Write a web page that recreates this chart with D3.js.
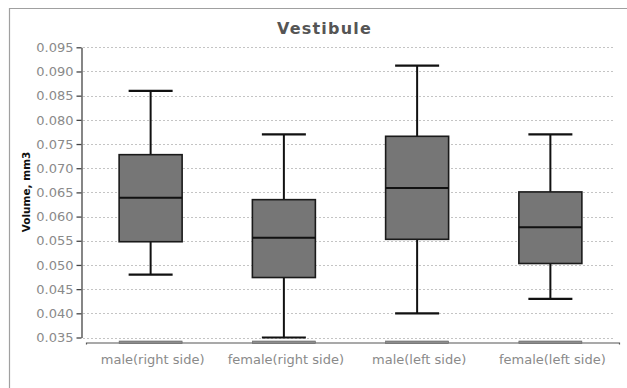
<!DOCTYPE html>
<html>
<head>
<meta charset="utf-8">
<script src="https://cdn.jsdelivr.net/npm/d3@7"></script>
<style>
  html, body { margin: 0; padding: 0; background: #fff; }
  svg { display: block; }
</style>
</head>
<body>
<svg id="chart" width="627" height="388"></svg>
<script>
// Box-plot statistics per group (volume, mm3)
const categories = ["male(right side)", "female(right side)", "male(left side)", "female(left side)"];
const whiskerHigh = [0.086, 0.077, 0.0912, 0.077];
const upperQuartile = [0.0728, 0.0635, 0.0766, 0.0651];
const medians = [0.0639, 0.0556, 0.0659, 0.0578];
const lowerQuartile = [0.0548, 0.0474, 0.0553, 0.0503];
const whiskerLow = [0.048, 0.035, 0.040, 0.043];
const yTicks = [0.035, 0.040, 0.045, 0.050, 0.055, 0.060, 0.065, 0.070, 0.075, 0.080, 0.085, 0.090, 0.095];

const svg = d3.select("#chart");
const font = "'DejaVu Sans', Verdana, sans-serif";

// outer frame (top and left edges)
svg.append("path")
  .attr("d", "M9.5,388 V8.5 H627")
  .attr("fill", "none")
  .attr("stroke", "#a0a0a0")
  .attr("stroke-width", 1.2);

// title
svg.append("text")
  .attr("x", 324.5).attr("y", 33.5)
  .attr("text-anchor", "middle")
  .attr("font-family", font)
  .attr("font-weight", "bold")
  .attr("font-size", 16)
  .attr("letter-spacing", 1.2)
  .attr("fill", "#555")
  .text("Vestibule");

const x = d3.scaleBand().domain(categories).range([84, 617]);
const y = d3.scaleLinear().domain([0.035, 0.095]).range([337.5, 47.3]);
const boxW = 63;
const capW = 44;

// horizontal dashed grid
svg.append("g").selectAll("line")
  .data(yTicks)
  .join("line")
  .attr("x1", 83).attr("x2", 614)
  .attr("y1", d => Math.round(y(d)) + 0.5)
  .attr("y2", d => Math.round(y(d)) + 0.5)
  .attr("stroke", "#c4c4c4")
  .attr("stroke-width", 1)
  .attr("stroke-dasharray", "2,2");

// y axis
const yAxis = svg.append("g")
  .attr("transform", "translate(81.5,0)")
  .call(d3.axisLeft(y).tickValues(yTicks).tickFormat(d3.format(".3f")).tickSize(5).tickSizeOuter(0).tickPadding(3));
yAxis.select(".domain").attr("stroke", "#444").attr("stroke-width", 1.3);
yAxis.selectAll(".tick line").attr("stroke", "#444").attr("stroke-width", 1.3);
yAxis.selectAll(".tick text")
  .attr("font-family", font)
  .attr("font-size", 13)
  .attr("fill", "#8a8a8a");

// x axis
const xAxis = svg.append("g")
  .attr("transform", "translate(2,342.5)")
  .call(d3.axisBottom(x).tickSize(0).tickSizeOuter(2).tickPadding(12));
xAxis.select(".domain").attr("stroke", "#555").attr("stroke-width", 1.2);
xAxis.selectAll(".tick text")
  .attr("font-family", font)
  .attr("font-size", 13)
  .attr("fill", "#8a8a8a");

// y axis title
svg.append("text")
  .attr("transform", "translate(30,192) rotate(-90)")
  .attr("text-anchor", "middle")
  .attr("font-family", font)
  .attr("font-weight", "bold")
  .attr("font-size", 10.5)
  .attr("fill", "#111")
  .text("Volume, mm3");

const rows = categories.map((c, i) => ({
  c, hi: whiskerHigh[i], q3: upperQuartile[i], med: medians[i], q1: lowerQuartile[i], lo: whiskerLow[i]
}));
const cx = d => x(d.c) + x.bandwidth() / 2;

const g = svg.append("g");

// flat markers on the category axis
g.selectAll("rect.base")
  .data(rows)
  .join("rect")
  .attr("class", "base")
  .attr("x", d => cx(d) - boxW / 2)
  .attr("y", 341)
  .attr("width", boxW)
  .attr("height", 2.5)
  .attr("fill", "#8c8c8c")
  .attr("stroke", "#666")
  .attr("stroke-width", 0.6);

// whisker stems
g.selectAll("line.stem")
  .data(rows)
  .join("line")
  .attr("class", "stem")
  .attr("x1", cx).attr("x2", cx)
  .attr("y1", d => y(d.hi)).attr("y2", d => y(d.lo))
  .attr("stroke", "#111").attr("stroke-width", 2);

// whisker caps
["hi", "lo"].forEach(k => {
  g.selectAll("line.cap-" + k)
    .data(rows)
    .join("line")
    .attr("class", "cap-" + k)
    .attr("x1", d => cx(d) - capW / 2).attr("x2", d => cx(d) + capW / 2)
    .attr("y1", d => y(d[k])).attr("y2", d => y(d[k]))
    .attr("stroke", "#111").attr("stroke-width", 2.2);
});

// boxes
g.selectAll("rect.box")
  .data(rows)
  .join("rect")
  .attr("class", "box")
  .attr("x", d => cx(d) - boxW / 2)
  .attr("y", d => y(d.q3))
  .attr("width", boxW)
  .attr("height", d => y(d.q1) - y(d.q3))
  .attr("fill", "#767676")
  .attr("stroke", "#1a1a1a")
  .attr("stroke-width", 1.6);

// medians
g.selectAll("line.median")
  .data(rows)
  .join("line")
  .attr("class", "median")
  .attr("x1", d => cx(d) - boxW / 2).attr("x2", d => cx(d) + boxW / 2)
  .attr("y1", d => y(d.med)).attr("y2", d => y(d.med))
  .attr("stroke", "#111").attr("stroke-width", 2);
</script>
</body>
</html>
